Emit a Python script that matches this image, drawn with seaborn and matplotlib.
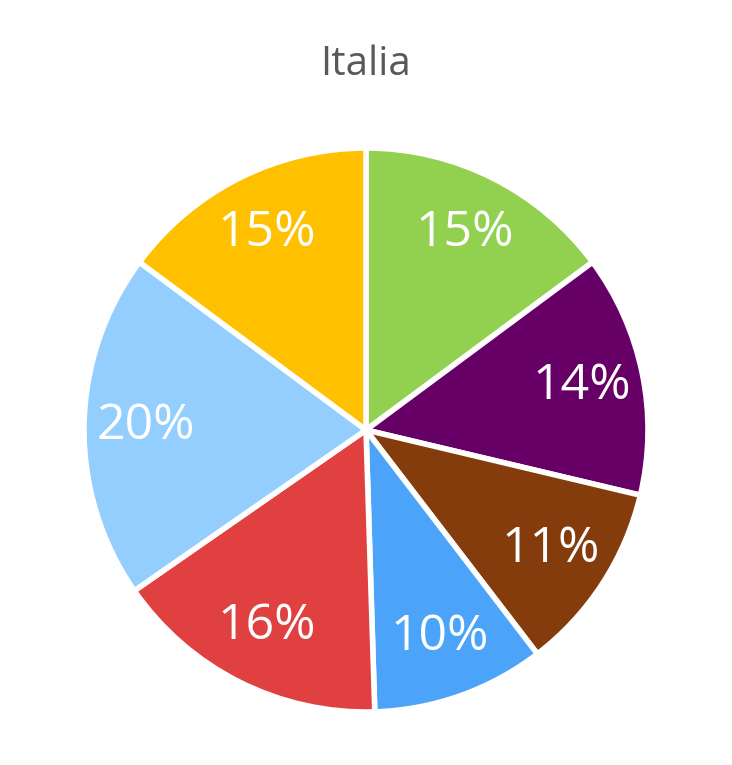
import matplotlib
matplotlib.use("Agg")
import numpy as np
import matplotlib.pyplot as plt
import seaborn as sns

# slice values, clockwise from 12 o'clock
labels = ["A", "B", "C", "D", "E", "F", "G"]
shares = [15, 14, 11, 10, 16, 20, 15]
pct_labels = ["15%", "14%", "11%", "10%", "16%", "20%", "15%"]
colors = ["#92D050", "#660066", "#843C0C", "#4BA3FA", "#E04040", "#93CEFE", "#FFC000"]
title = "Italia"

sns.set_theme(style="white")
plt.rcParams['font.family'] = ['Open Sans', 'DejaVu Sans']

fig = plt.figure(figsize=(7.32, 7.65), dpi=100)
cx, cy, r = 366, 765 - 430, 282
ax = fig.add_axes([(cx - r) / 732, (cy - r) / 765, 2 * r / 732, 2 * r / 765])

wedges, texts = ax.pie(shares, colors=colors, startangle=90, counterclock=False,
                       wedgeprops=dict(edgecolor="white", linewidth=4))
for w, lab in zip(wedges, pct_labels):
    mid = np.deg2rad((w.theta1 + w.theta2) / 2)
    ax.text(0.78 * np.cos(mid), 0.78 * np.sin(mid), lab, ha="center", va="center",
            color="white", fontsize=36)
ax.set_xlim(-1, 1)
ax.set_ylim(-1, 1)
ax.set_aspect("equal")
ax.axis("off")

fig.text(0.5, 1 - 65 / 765, title, ha="center", va="center", fontsize=29, color="#595959")

fig.savefig("out.png", dpi=100)
